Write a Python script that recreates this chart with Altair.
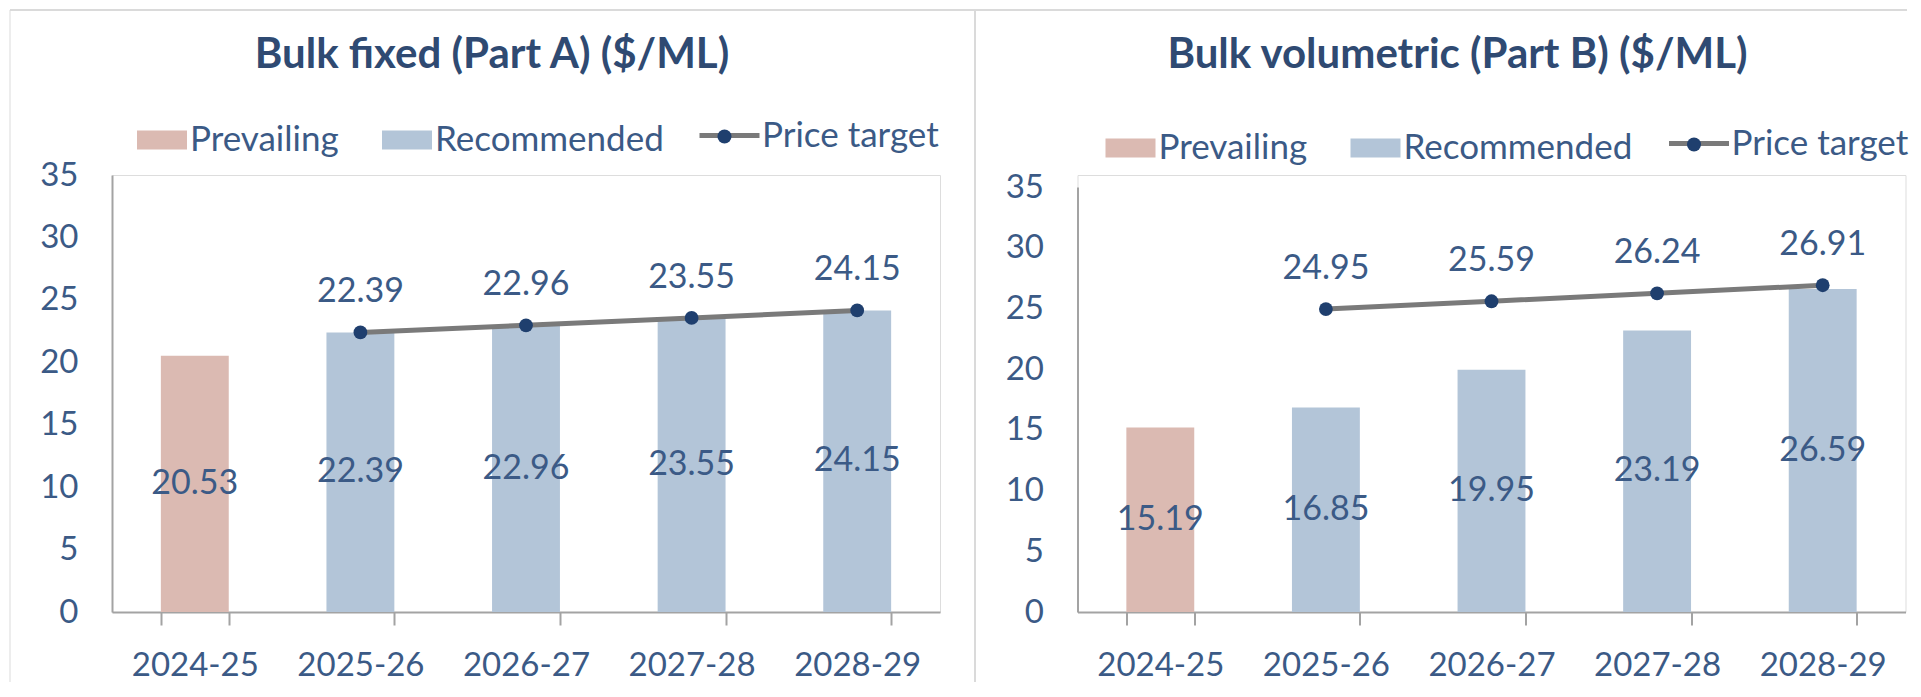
import altair as alt
import pandas as pd

categories = ["2024-25", "2025-26", "2026-27", "2027-28", "2028-29"]

a_title = "Bulk fixed (Part A) ($/ML)"
a_prevailing = [20.53, None, None, None, None]
a_recommended = [None, 22.39, 22.96, 23.55, 24.15]
a_target = [None, 22.39, 22.96, 23.55, 24.15]

b_title = "Bulk volumetric (Part B) ($/ML)"
b_prevailing = [15.19, None, None, None, None]
b_recommended = [None, 16.85, 19.95, 23.19, 26.59]
b_target = [None, 24.95, 25.59, 26.24, 26.91]

y_ticks = [0, 5, 10, 15, 20, 25, 30, 35]

FONT = "Lato"
TXT = "#3b5a86"
TITLE_C = "#2f4a72"
PINK = "#dbbab2"
BLUE = "#b3c5d8"
GREY_LINE = "#7a7a7a"
NAVY = "#1f3f6e"
AXIS_C = "#a3a3a3"
FRAME_C = "#dadada"
FRAME_LIGHT = "#ededed"


def bar_frame(prev, rec):
    rows = []
    for c, p, r in zip(categories, prev, rec):
        if p is not None:
            rows.append({"cat": c, "series": "Prevailing", "value": p})
        if r is not None:
            rows.append({"cat": c, "series": "Recommended", "value": r})
    df = pd.DataFrame(rows)
    df["mid"] = df["value"] / 2
    return df


def line_frame(target):
    rows = [{"cat": c, "value": t, "lname": "Price target", "pname": "Price target"}
            for c, t in zip(categories, target) if t is not None]
    return pd.DataFrame(rows)


def panel(title, prev, rec, target, width, height, yrange, title_x, title_y,
          lx_bar, ly_bar, lx_line, ly_line, lx_dot, ly_dot, frame=False):
    bars = bar_frame(prev, rec)
    line = line_frame(target)

    x = alt.X("cat:N", sort=categories, title=None,
              scale=alt.Scale(domain=categories, paddingInner=0.59, paddingOuter=0.295),
              axis=alt.Axis(labelAngle=0, labelFont=FONT, labelFontSize=33, labelColor=TXT,
                            domainColor=AXIS_C, domainWidth=2, tickColor=AXIS_C, tickWidth=2,
                            tickSize=13, tickBand="extent", labelPadding=24))
    y = alt.Y("value:Q", title=None,
              scale=alt.Scale(domain=[0, 35], nice=False, zero=True, range=yrange),
              axis=alt.Axis(values=y_ticks, ticks=False, grid=False, labelFont=FONT,
                            labelFontSize=33, labelColor=TXT, domainColor=AXIS_C,
                            domainWidth=2, labelPadding=34))

    bar_layer = alt.Chart(bars).mark_bar().encode(
        x=x, y=y,
        color=alt.Color("series:N", scale=alt.Scale(domain=["Prevailing", "Recommended"],
                                                    range=[PINK, BLUE]),
                        legend=alt.Legend(title=None, orient="none", direction="horizontal",
                                          legendX=lx_bar, legendY=ly_bar,
                                          symbolType="M-1,-0.38H1V0.38H-1Z",
                                          symbolSize=2500, symbolStrokeWidth=0, labelFont=FONT,
                                          labelFontSize=35, labelColor=TXT, labelOffset=3,
                                          labelLimit=0, columnPadding=43, padding=0)),
    )
    bar_text = alt.Chart(bars).mark_text(font=FONT, fontSize=34, color=TXT, baseline="middle").encode(
        x=alt.X("cat:N", sort=categories), y=alt.Y("mid:Q"), text=alt.Text("value:Q", format=".2f"))

    line_layer = alt.Chart(line).mark_line(strokeWidth=5).encode(
        x=alt.X("cat:N", sort=categories), y=alt.Y("value:Q"),
        stroke=alt.Stroke("lname:N", scale=alt.Scale(range=[GREY_LINE]),
                          legend=alt.Legend(title=None, orient="none", legendX=lx_line,
                                            legendY=ly_line, symbolType="stroke", symbolSize=3600,
                                            symbolStrokeWidth=5, labelFont=FONT, labelFontSize=35,
                                            labelColor=TXT, labelOffset=0, labelLimit=0,
                                            padding=0)),
    )
    point_layer = alt.Chart(line).mark_point(filled=True, size=190, opacity=1).encode(
        x=alt.X("cat:N", sort=categories), y=alt.Y("value:Q"),
        fill=alt.Fill("pname:N", scale=alt.Scale(range=[NAVY]),
                      legend=alt.Legend(title=None, orient="none", legendX=lx_dot, legendY=ly_dot,
                                        symbolType="circle", symbolSize=196, symbolStrokeWidth=0,
                                        labelFont=FONT, labelFontSize=35, labelExpr="''",
                                        labelLimit=0, padding=0)),
    )
    line_text = alt.Chart(line).mark_text(font=FONT, fontSize=34, color=TXT, baseline="middle",
                                          dy=-40).encode(
        x=alt.X("cat:N", sort=categories), y=alt.Y("value:Q"),
        text=alt.Text("value:Q", format=".2f"))

    title_layer = alt.Chart(pd.DataFrame({"title": [title]})).mark_text(
        font=FONT, fontSize=42, fontWeight="bold", color=TITLE_C, baseline="middle",
        align="center").encode(text="title:N", x=alt.value(title_x), y=alt.value(title_y))

    layers = [bar_layer, bar_text, line_layer, point_layer, line_text, title_layer]
    if frame:
        one = pd.DataFrame({"k": [0]})
        rule = alt.Chart(one).mark_rule(color=FRAME_C, strokeWidth=2)
        faint = alt.Chart(one).mark_rule(color=FRAME_LIGHT, strokeWidth=2)
        layers += [
            faint.encode(x=alt.value(-102), y=alt.value(-165), y2=alt.value(507)),
            rule.encode(x=alt.value(863), y=alt.value(-165), y2=alt.value(507)),
            rule.encode(x=alt.value(-102), x2=alt.value(1795), y=alt.value(-165)),
        ]

    return alt.layer(*layers).properties(width=width, height=height).resolve_scale(
        color="independent", stroke="independent", fill="independent")


left = panel(a_title, a_prevailing, a_recommended, a_target, 828, 437, [437, 0], 380, -120,
             25, -60, 585, -72, 595, -56, frame=True)
right = panel(b_title, b_prevailing, b_recommended, b_target, 828, 437, [437, 12], 380, -120,
              28, -52, 589, -64, 599, -48)

chart = alt.hconcat(left, right, spacing=137.5, bounds="flush").resolve_scale(
    color="independent", stroke="independent", fill="independent", x="independent", y="independent"
).resolve_legend(color="independent", stroke="independent", fill="independent").properties(
    padding={"left": 0, "top": 0, "right": 0, "bottom": 4}
).configure_view(stroke=None).configure(background="white")

chart.save("out.html", embed_options={"renderer": "svg", "actions": False})
